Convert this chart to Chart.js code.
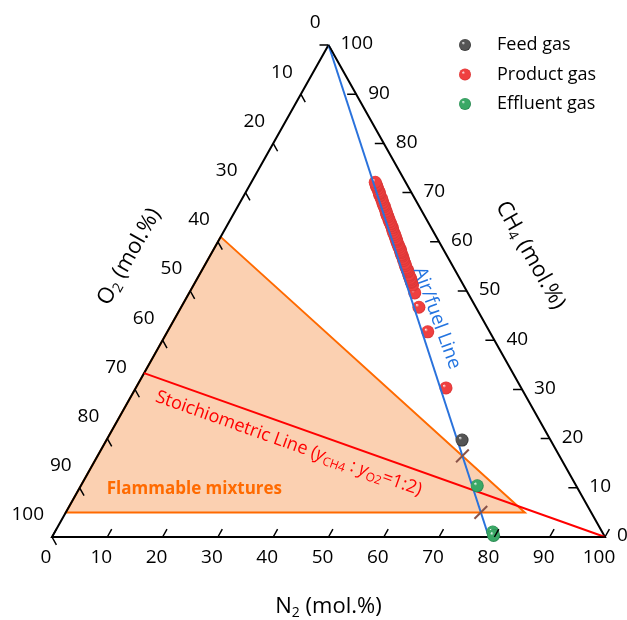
<!DOCTYPE html>
<html>
<head>
<meta charset="utf-8">
<script src="https://cdn.jsdelivr.net/npm/chart.js@4.4.1/dist/chart.umd.min.js"></script>
<style>
  html, body { margin: 0; padding: 0; background: #ffffff; }
  canvas { display: block; }
</style>
</head>
<body>
<canvas id="chart" width="627" height="620"></canvas>
<script>
// Compositions in mol.% (CH4, O2, N2)
const tickValues = [0, 10, 20, 30, 40, 50, 60, 70, 80, 90, 100];

const feedCH4 = [19.7];
const feedO2  = [16.0];
const feedN2  = [64.3];

const productCH4 = [30.3, 41.7, 46.7, 49.6, 51.2, 51.8, 52.0, 52.3, 52.6, 53.0, 53.3, 53.9, 54.1, 54.4, 54.7, 55.2,
                    55.6, 56.2, 56.6, 57.1, 57.4, 57.8, 58.1, 58.5, 58.9, 59.3, 59.6, 60.1, 60.4, 60.6, 61.1, 61.5,
                    61.9, 62.4, 62.9, 63.3, 63.7, 64.1, 64.6, 65.1, 65.4, 65.8, 66.2, 66.7, 67.2, 67.5, 68.0, 68.5,
                    68.9, 69.4, 69.8, 70.0, 70.3, 70.8, 71.2, 71.4, 71.6, 72.1];
const productO2  = [13.6, 11.2, 10.3, 9.6, 9.2, 9.1, 9.0, 9.0, 8.9, 8.9, 8.8, 8.7, 8.6, 8.6, 8.6, 8.5,
                    8.4, 8.3, 8.2, 8.1, 8.1, 8.0, 7.9, 7.8, 7.8, 7.7, 7.7, 7.6, 7.5, 7.5, 7.4, 7.3,
                    7.3, 7.2, 7.0, 7.0, 6.9, 6.9, 6.8, 6.7, 6.7, 6.6, 6.5, 6.4, 6.3, 6.3, 6.2, 6.1,
                    6.0, 6.0, 5.9, 5.8, 5.8, 5.7, 5.7, 5.6, 5.6, 5.5];
const productN2  = [56.1, 47.1, 43.0, 40.8, 39.6, 39.1, 39.0, 38.7, 38.5, 38.1, 37.9, 37.4, 37.3, 37.0, 36.7, 36.3,
                    36.0, 35.5, 35.2, 34.8, 34.5, 34.2, 34.0, 33.7, 33.3, 33.0, 32.7, 32.3, 32.1, 31.9, 31.5, 31.2,
                    30.8, 30.4, 30.1, 29.7, 29.4, 29.0, 28.6, 28.2, 27.9, 27.6, 27.3, 26.9, 26.5, 26.2, 25.8, 25.4,
                    25.1, 24.6, 24.3, 24.2, 23.9, 23.5, 23.1, 23.0, 22.8, 22.4];

const effluentCH4 = [10.4, 1.0, 0.3];
const effluentO2  = [17.9, 19.8, 20.0];
const effluentN2  = [71.7, 79.2, 79.7];

// Flammable region of CH4/O2/N2 mixtures (corners)
const flammableCH4 = [61, 5, 5];
const flammableO2  = [39, 95, 12];
const flammableN2  = [0, 0, 83];

// Air/fuel line: pure CH4 to air (21 % O2, 79 % N2)
const airLineCH4 = [100, 0];
const airLineO2  = [0, 21];
const airLineN2  = [0, 79];

// Stoichiometric line: CH4:O2 = 1:2 diluted towards pure N2
const stoichCH4 = [33.3, 0];
const stoichO2  = [66.7, 0];
const stoichN2  = [0, 100];

// Diagram frame: CH4 apex, N2 corner, O2 corner
const frameCH4 = [100, 0, 0, 100];
const frameO2  = [0, 0, 100, 0];
const frameN2  = [0, 100, 0, 0];

const FONT = '"Open Sans", "DejaVu Sans", sans-serif';

// Ternary (CH4, N2) -> cartesian plot coordinates
function toXY(ch4, n2) { return { x: n2 + ch4 / 2, y: ch4 }; }
function points(c, o, n) { return c.map((v, i) => toXY(v, n[i])); }
function closed(arr) { return arr.concat([arr[0]]); }

// Where the air/fuel line crosses the flammable envelope
function airCrossings() {
  const a = airLineO2[1] / (airLineO2[1] + airLineN2[1]);
  const f = i => flammableO2[i] * (1 - a) - flammableN2[i] * a;
  const out = [];
  const n = flammableCH4.length;
  for (let i = 0; i < n; i++) {
    const j = (i + 1) % n;
    const fi = f(i), fj = f(j);
    if (fi * fj < 0) {
      const t = fi / (fi - fj);
      const ch4 = flammableCH4[i] + t * (flammableCH4[j] - flammableCH4[i]);
      const n2 = flammableN2[i] + t * (flammableN2[j] - flammableN2[i]);
      out.push(toXY(ch4, n2));
    }
  }
  return out;
}

function sphereFill(g, px, py, r, base, dark) {
  const grad = g.createRadialGradient(px - r * 0.35, py - r * 0.4, 0, px, py, r);
  grad.addColorStop(0, '#ffffff');
  grad.addColorStop(0.28, base);
  grad.addColorStop(0.82, base);
  grad.addColorStop(1, dark);
  return grad;
}
function sphere(base, dark) {
  return (ctx) => {
    if (ctx.type !== 'data' || !ctx.raw) return base;
    const ch = ctx.chart;
    if (!ch.scales || !ch.scales.x || !ch.scales.y) return base;
    const px = ch.scales.x.getPixelForValue(ctx.raw.x);
    const py = ch.scales.y.getPixelForValue(ctx.raw.y);
    if (!isFinite(px) || !isFinite(py)) return base;
    return sphereFill(ch.ctx, px, py, 6.5, base, dark);
  };
}

const seriesStyle = {
  'Feed gas':     { base: '#555555', dark: '#2e2e2e' },
  'Product gas':  { base: '#ef4040', dark: '#d83434' },
  'Effluent gas': { base: '#3aa866', dark: '#22804a' }
};

// Draw a run of text segments (with subscripts / italics) around an anchor
function drawRich(g, segs, x, y, angle, align, color) {
  g.save();
  g.translate(x, y);
  g.rotate(angle);
  g.fillStyle = color;
  g.textBaseline = 'middle';
  g.textAlign = 'left';
  let w = 0;
  segs.forEach(s => { g.font = s.font; w += g.measureText(s.t).width; });
  let cx = align === 'center' ? -w / 2 : (align === 'right' ? -w : 0);
  segs.forEach(s => {
    g.font = s.font;
    g.fillText(s.t, cx, s.dy || 0);
    cx += g.measureText(s.t).width;
  });
  g.restore();
}

const ternaryDecor = {
  id: 'ternaryDecor',
  afterDatasetsDraw(chart) {
    const g = chart.ctx;
    const sx = chart.scales.x, sy = chart.scales.y;
    const P = (ch4, n2) => { const q = toXY(ch4, n2); return { x: sx.getPixelForValue(q.x), y: sy.getPixelForValue(q.y) }; };
    const unit = (a, b) => { const dx = b.x - a.x, dy = b.y - a.y, L = Math.hypot(dx, dy); return { x: dx / L, y: dy / L }; };
    const apex = P(100, 0), nCorner = P(0, 100), oCorner = P(0, 0);
    const upRight = unit(oCorner, apex);
    const downRight = unit(apex, nCorner);
    const T = 9;

    g.save();
    g.strokeStyle = '#000000';
    g.lineWidth = 1.5;
    g.beginPath();
    tickValues.forEach(v => {
      let p = P(0, v);                       // N2 axis (bottom)
      g.moveTo(p.x, p.y); g.lineTo(p.x + upRight.x * T, p.y + upRight.y * T);
      p = P(100 - v, 0);                     // O2 axis (left)
      g.moveTo(p.x, p.y); g.lineTo(p.x + downRight.x * T, p.y + downRight.y * T);
      p = P(v, 100 - v);                     // CH4 axis (right)
      g.moveTo(p.x, p.y); g.lineTo(p.x - T, p.y);
    });
    g.stroke();

    // tick labels
    g.fillStyle = '#000000';
    g.font = '19px ' + FONT;
    g.textBaseline = 'middle';
    tickValues.forEach(v => {
      let p = P(0, v);
      g.textAlign = 'center';
      g.fillText(String(v), p.x - 6, p.y + 21);
      p = P(100 - v, 0);
      g.textAlign = 'right';
      g.fillText(String(v), p.x - 8, p.y - 22);
      p = P(v, 100 - v);
      g.textAlign = 'left';
      g.fillText(String(v), p.x + 12, p.y - 1);
    });
    g.restore();

    // axis titles
    const tf = '22px ' + FONT, sf = '14px ' + FONT;
    const mid = (a, b) => ({ x: (a.x + b.x) / 2, y: (a.y + b.y) / 2 });
    const mb = mid(oCorner, nCorner);
    drawRich(g, [{ t: 'N', font: tf }, { t: '2', font: sf, dy: 6 }, { t: ' (mol.%)', font: tf }],
      mb.x, mb.y + 70, 0, 'center', '#000');
    const ml = mid(oCorner, apex);
    const nl = { x: upRight.y, y: -upRight.x };
    drawRich(g, [{ t: 'O', font: tf }, { t: '2', font: sf, dy: 6 }, { t: ' (mol.%)', font: tf }],
      ml.x + nl.x * 70, ml.y + nl.y * 70, Math.atan2(upRight.y, upRight.x), 'center', '#000');
    const mr = mid(apex, nCorner);
    const nr = { x: -downRight.y, y: downRight.x };
    drawRich(g, [{ t: 'CH', font: tf }, { t: '4', font: sf, dy: 6 }, { t: ' (mol.%)', font: tf }],
      mr.x - nr.x * 73, mr.y - nr.y * 73, Math.atan2(downRight.y, downRight.x), 'center', '#000');

    // line annotations
    const a0 = P(airLineCH4[0], airLineN2[0]), a1 = P(airLineCH4[1], airLineN2[1]);
    drawRich(g, [{ t: 'Air/fuel Line', font: '19px ' + FONT }],
      sx.getPixelForValue(69.6), sy.getPixelForValue(44.5), Math.atan2(a1.y - a0.y, a1.x - a0.x) - 0.035, 'center', '#2374e0');

    const s0 = P(stoichCH4[0], stoichN2[0]), s1 = P(stoichCH4[1], stoichN2[1]);
    const rf = '18px ' + FONT, ri = 'italic 18px ' + FONT, rs = '12px ' + FONT;
    drawRich(g, [
      { t: 'Stoichiometric Line (', font: rf },
      { t: 'y', font: ri }, { t: 'CH4', font: rs, dy: 5 },
      { t: ' : ', font: rf },
      { t: 'y', font: ri }, { t: 'O2', font: rs, dy: 5 },
      { t: '=1:2)', font: rf }
    ], sx.getPixelForValue(42.8), sy.getPixelForValue(19.0), Math.atan2(s1.y - s0.y, s1.x - s0.x), 'center', '#ff0000');

    drawRich(g, [{ t: 'Flammable mixtures', font: 'bold 17px ' + FONT }],
      sx.getPixelForValue(9.9), sy.getPixelForValue(9.8), 0, 'left', '#ff6a00');

    // legend
    chart.data.datasets.forEach(ds => {
      const st = seriesStyle[ds.label];
      if (!st) return;
      const row = ['Feed gas', 'Product gas', 'Effluent gas'].indexOf(ds.label);
      const ly = 45 + row * 29.5;
      g.save();
      g.beginPath();
      g.arc(465, ly, 6, 0, Math.PI * 2);
      g.fillStyle = sphereFill(g, 465, ly, 6, st.base, st.dark);
      g.fill();
      g.fillStyle = '#000000';
      g.font = '18px ' + FONT;
      g.textAlign = 'left';
      g.textBaseline = 'middle';
      g.fillText(ds.label, 497, ly);
      g.restore();
    });
  }
};

const scatterSet = (label, c, o, n) => ({
  label,
  data: points(c, o, n),
  showLine: false,
  pointRadius: 6.5,
  pointBorderWidth: 0,
  pointBackgroundColor: sphere(seriesStyle[label].base, seriesStyle[label].dark),
  clip: false
});

const lineSet = (label, data, color, width, extra) => Object.assign({
  label, data, showLine: true, pointRadius: 0, borderColor: color, borderWidth: width,
  backgroundColor: 'transparent', clip: false, tension: 0
}, extra || {});

new Chart(document.getElementById('chart'), {
  type: 'scatter',
  data: {
    datasets: [
      {
        label: 'limits',
        data: airCrossings(),
        showLine: false,
        pointStyle: 'line',
        pointRotation: -45,
        pointRadius: 9,
        pointBorderColor: '#8a5248',
        pointBorderWidth: 2,
        clip: false
      },
      scatterSet('Feed gas', feedCH4, feedO2, feedN2),
      scatterSet('Effluent gas', effluentCH4, effluentO2, effluentN2),
      lineSet('air', points(airLineCH4, airLineO2, airLineN2), '#2a72dc', 2),
      scatterSet('Product gas', productCH4, productO2, productN2),
      lineSet('stoich', points(stoichCH4, stoichO2, stoichN2), '#ff0000', 2),
      lineSet('frame', points(frameCH4, frameO2, frameN2), '#000000', 2),
      lineSet('flammable', closed(points(flammableCH4, flammableO2, flammableN2)), '#ff6a00', 2,
        { fill: 'shape', backgroundColor: '#fbd0b1' })
    ]
  },
  options: {
    responsive: false,
    animation: false,
    devicePixelRatio: 1,
    events: [],
    layout: { padding: { left: 52, right: 22, top: 45, bottom: 83 } },
    scales: {
      x: { type: 'linear', min: 0, max: 100, display: false },
      y: { type: 'linear', min: 0, max: 100, display: false }
    },
    plugins: { legend: { display: false }, tooltip: { enabled: false } }
  },
  plugins: [ternaryDecor]
});
</script>
</body>
</html>
